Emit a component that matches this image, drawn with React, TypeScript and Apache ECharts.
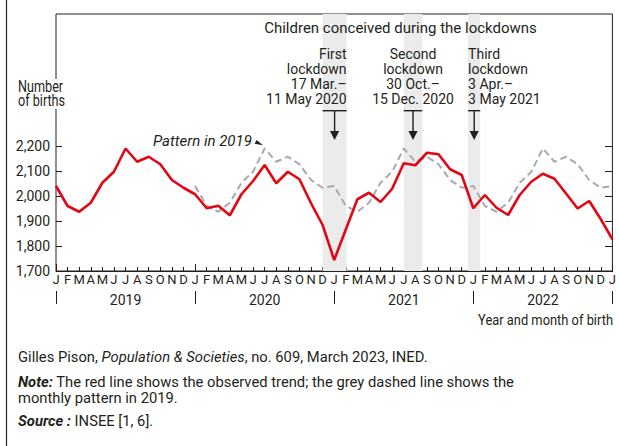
import React, { useEffect, useRef } from "react";
import * as echarts from "echarts";

// ---- Data (Jan 2019 .. Jan 2023), monthly number of births (daily average) ----
const monthLetters = ["J", "F", "M", "A", "M", "J", "J", "A", "S", "O", "N", "D"];
const yearLabels = ["2019", "2020", "2021", "2022"];
const births2019 = [2040, 1960, 1937, 1973, 2053, 2097, 2190, 2137, 2157, 2127, 2064, 2033];
const births2020 = [2007, 1951, 1961, 1923, 2007, 2060, 2124, 2051, 2097, 2067, 1971, 1884];
const births2021 = [1744, 1866, 1987, 2013, 1976, 2029, 2131, 2123, 2173, 2167, 2107, 2084];
const births2022 = [1951, 2004, 1953, 1924, 2004, 2057, 2089, 2069, 2010, 1950, 1980, 1907];
const birthsJan2023 = [1827];
// bands of children conceived during lockdowns (in month-index units on the x axis)
const lockdownBands = [
  [23.0, 25.07],
  [30.0, 31.6],
  [35.55, 36.6],
];
const lockdownLabels = [
  "First\nlockdown\n17 Mar.–\n11 May 2020",
  "Second\nlockdown\n30 Oct.–\n15 Dec. 2020",
  "Third\nlockdown\n3 Apr.–\n3 May 2021",
];

const FONT = "Roboto, 'Noto Sans', sans-serif";
const INK = "#231f20";
const Y_MIN = 1700;
const Y_TICK_MAX = 2200;
const Y_MAX = 2728;
const X_MAX = 48;

export default function App() {
  const ref = useRef<HTMLDivElement>(null);
  useEffect(() => {
    if (!ref.current) return;
    const chart = echarts.init(ref.current, undefined, { renderer: "svg" });

    const observed = [...births2019, ...births2020, ...births2021, ...births2022, ...birthsJan2023];
    const redData = observed.map((v, i) => [i, v]);
    const pattern = [
      ...births2019.map(() => null),
      ...births2019,
      ...births2019,
      ...births2019,
      births2019[0],
    ];
    const greyData = pattern.map((v, i) => [i, v]);

    const hiddenX = {
      type: "value",
      min: 0,
      max: X_MAX,
      show: false,
      splitLine: { show: false },
    };

    const option: any = {
      animation: false,
      backgroundColor: "#fff",
      textStyle: { fontFamily: FONT, color: INK },
      grid: [
        {
          left: 56,
          right: 6,
          top: 14,
          bottom: 175,
          show: true,
          borderColor: INK,
          borderWidth: 1,
          backgroundColor: "transparent",
        },
        // lower grid, only used for the 1,700-2,200 ticks
        { left: 56, right: 6, top: 146, bottom: 175, show: false },
      ],
      xAxis: [
        {
          type: "value",
          gridIndex: 0,
          min: 0,
          max: X_MAX,
          interval: 1,
          position: "bottom",
          axisLine: { show: true, lineStyle: { color: INK, width: 1 } },
          axisTick: { show: true, inside: true, length: 4, lineStyle: { color: INK } },
          axisLabel: {
            formatter: (v: number) => monthLetters[Math.round(v) % 12],
            fontSize: 13,
            color: INK,
            margin: 2,
            fontFamily: FONT,
            showMinLabel: true,
            showMaxLabel: true,
          },
          splitLine: { show: false },
        },
        {
          type: "value",
          gridIndex: 0,
          min: 0,
          max: X_MAX,
          interval: 12,
          position: "bottom",
          offset: 0,
          axisLine: { show: false },
          axisTick: { show: true, inside: true, length: 7, lineStyle: { color: INK } },
          axisLabel: { show: false },
          splitLine: { show: false },
        },
        {
          type: "value",
          gridIndex: 0,
          min: 0,
          max: X_MAX,
          position: "bottom",
          offset: 20,
          axisLine: { show: false },
          axisTick: {
            show: true,
            inside: false,
            length: 13,
            customValues: [0, 12, 24, 36, 48],
            lineStyle: { color: INK },
          },
          axisLabel: {
            customValues: [6, 18, 30, 42],
            formatter: (v: number) => yearLabels[Math.round((v - 6) / 12)],
            fontSize: 14,
            color: INK,
            margin: 2,
            fontFamily: FONT,
          },
          splitLine: { show: false },
        },
        { ...hiddenX, gridIndex: 1 },
      ],
      yAxis: [
        {
          type: "value",
          gridIndex: 0,
          min: Y_MIN,
          max: Y_MAX,
          show: false,
          splitLine: { show: false },
        },
        {
          type: "value",
          gridIndex: 1,
          min: Y_MIN,
          max: Y_TICK_MAX,
          interval: 100,
          position: "left",
          axisLine: { show: false },
          axisTick: { show: true, inside: true, length: 6, lineStyle: { color: INK } },
          axisLabel: {
            formatter: (v: number) => v.toLocaleString("en-US"),
            fontSize: 14,
            color: INK,
            margin: 6,
            fontFamily: FONT,
            showMinLabel: true,
            showMaxLabel: true,
          },
          splitLine: { show: false },
        },
        {
          type: "value",
          gridIndex: 1,
          min: Y_MIN,
          max: Y_TICK_MAX,
          interval: 100,
          position: "right",
          axisLine: { show: false },
          axisTick: { show: true, inside: true, length: 8, lineStyle: { color: INK } },
          axisLabel: { show: false },
          splitLine: { show: false },
        },
      ],
      series: [
        {
          type: "line",
          name: "Pattern in 2019",
          data: greyData,
          xAxisIndex: 0,
          yAxisIndex: 0,
          symbol: "none",
          connectNulls: false,
          lineStyle: { color: "#a7a9ac", width: 2, type: [7, 4] },
          z: 2,
          markArea: {
            silent: true,
            itemStyle: { color: "#ebebeb" },
            data: lockdownBands.map(([a, b]) => [{ xAxis: a }, { xAxis: b }]),
          },
        },
        {
          type: "line",
          name: "Observed",
          data: redData,
          xAxisIndex: 0,
          yAxisIndex: 0,
          symbol: "none",
          lineStyle: { color: "#e30613", width: 2.6 },
          z: 3,
        },
      ],
    };
    chart.setOption(option);

    const px = (v: number) => chart.convertToPixel({ xAxisIndex: 0 }, v) as number;
    const barY = 110.7;
    const tipY = 140;
    const graphics: any[] = [];
    // left page rule
    graphics.push({
      type: "line",
      shape: { x1: 6.5, y1: 0, x2: 6.5, y2: 446 },
      style: { stroke: INK, lineWidth: 1.2 },
      z: 100,
    });
    // title
    graphics.push({
      type: "text",
      x: 400.5,
      y: 28,
      style: {
        text: "Children conceived during the lockdowns",
        font: `15px ${FONT}`,
        fill: INK,
        textAlign: "center",
        textVerticalAlign: "middle",
      },
      z: 100,
    });
    lockdownBands.forEach(([a, b], k) => {
      const x0 = px(a);
      const x1 = px(b);
      const xc = (x0 + x1) / 2;
      const align = k === 0 ? "right" : k === 1 ? "center" : "left";
      const tx = k === 0 ? x1 : k === 1 ? xc : x0;
      graphics.push({
        type: "text",
        x: tx,
        y: 46,
        style: {
          text: lockdownLabels[k],
          font: `14px ${FONT}`,
          lineHeight: 15,
          fill: INK,
          textAlign: align,
          textVerticalAlign: "top",
        },
        z: 100,
      });
      graphics.push({
        type: "line",
        shape: { x1: x0, y1: barY, x2: x1, y2: barY },
        style: { stroke: INK, lineWidth: 1.4 },
        z: 100,
      });
      graphics.push({
        type: "line",
        shape: { x1: xc, y1: barY, x2: xc, y2: tipY - 8 },
        style: { stroke: INK, lineWidth: 1.4 },
        z: 100,
      });
      graphics.push({
        type: "polygon",
        shape: { points: [[xc - 4.6, tipY - 9], [xc + 4.6, tipY - 9], [xc, tipY]] },
        style: { fill: INK },
        z: 100,
      });
    });
    // Pattern label
    graphics.push({
      type: "text",
      x: 153,
      y: 141,
      style: {
        text: "Pattern in 2019",
        font: `italic 15px ${FONT}`,
        fill: INK,
        textAlign: "left",
        textVerticalAlign: "middle",
      },
      z: 100,
    });
    graphics.push({
      type: "polygon",
      shape: { points: [[254.6, 143.8], [256.6, 140.0], [263, 145.2]] },
      style: { fill: INK },
      z: 100,
    });
    // Number of births
    graphics.push({
      type: "text",
      x: 18,
      y: 79,
      scaleX: 0.79,
      style: {
        text: "Number\nof births",
        font: `16px ${FONT}`,
        lineHeight: 15,
        fill: INK,
        textAlign: "left",
        textVerticalAlign: "top",
        backgroundColor: "#fff",
        padding: [0, 3, 0, 0],
      },
      z: 100,
    });
    // x axis title
    graphics.push({
      type: "text",
      x: 613,
      y: 320,
      scaleX: 0.86,
      style: {
        text: "Year and month of birth",
        font: `15px ${FONT}`,
        fill: INK,
        textAlign: "right",
        textVerticalAlign: "middle",
      },
      z: 100,
    });
    const rich = {
      n: { fontFamily: FONT, fontSize: 15, fill: INK, color: INK },
      i: { fontFamily: FONT, fontSize: 15, fontStyle: "italic", fill: INK, color: INK },
      b: { fontFamily: FONT, fontSize: 15, fontStyle: "italic", fontWeight: "bold", fill: INK, color: INK },
    };
    const notes = [
      { y: 356.7, text: "{n|Gilles Pison, }{i|Population & Societies}{n|, no. 609, March 2023, INED.}" },
      { y: 381.7, text: "{b|Note:}{n| The red line shows the observed trend; the grey dashed line shows the}" },
      { y: 398.3, text: "{n|monthly pattern in 2019.}" },
      { y: 420.7, text: "{b|Source :}{n| INSEE [1, 6].}" },
    ];
    notes.forEach((n) => {
      graphics.push({
        type: "text",
        x: 18,
        y: n.y,
        scaleX: 0.984,
        style: {
          text: n.text,
          rich,
          font: `15px ${FONT}`,
          fill: INK,
          textAlign: "left",
          textVerticalAlign: "middle",
        },
        z: 100,
      });
    });

    chart.setOption({ graphic: { elements: graphics } });

    return () => chart.dispose();
  }, []);

  return (
    <div
      ref={ref}
      style={{ position: "absolute", left: 0, top: 0, width: 619, height: 446, background: "#fff" }}
    />
  );
}
